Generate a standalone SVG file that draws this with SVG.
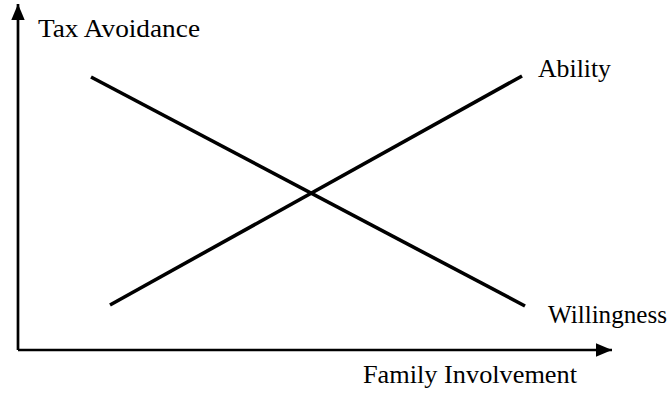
<svg xmlns="http://www.w3.org/2000/svg" width="671" height="393" viewBox="0 0 671 393">
<style>
.axis{stroke:#000;stroke-width:2.7;fill:none}
.curve{stroke:#000;stroke-width:3.6;fill:none}
.lbl{font-family:"Liberation Serif","Times New Roman",serif;font-size:26px;fill:#000}
</style>
<defs>
<marker id="ah" viewBox="0 0 16 13.4" refX="16" refY="6.7" markerWidth="16" markerHeight="13.4" markerUnits="userSpaceOnUse" orient="auto">
<path d="M0,0 L16,6.7 L0,13.4 Z" fill="#000"/>
</marker>
</defs>
<g id="connectors">
<path class="axis" d="M18,350 L18,4" marker-end="url(#ah)"/>
<path class="axis" d="M18,350 L612,350" marker-end="url(#ah)"/>
<line id="willingness-line" class="curve" x1="91" y1="77" x2="525" y2="306"/>
<line id="ability-line" class="curve" x1="110" y1="305" x2="522" y2="76"/>
</g>
<g id="y-label"><text class="lbl" x="38" y="37" textLength="162" lengthAdjust="spacingAndGlyphs">Tax Avoidance</text></g>
<g id="x-label"><text class="lbl" x="363" y="383" textLength="214" lengthAdjust="spacingAndGlyphs">Family Involvement</text></g>
<g id="ability"><text class="lbl" x="538" y="77" textLength="73" lengthAdjust="spacingAndGlyphs">Ability</text></g>
<g id="willingness"><text class="lbl" x="548" y="323" textLength="119" lengthAdjust="spacingAndGlyphs">Willingness</text></g>
</svg>
